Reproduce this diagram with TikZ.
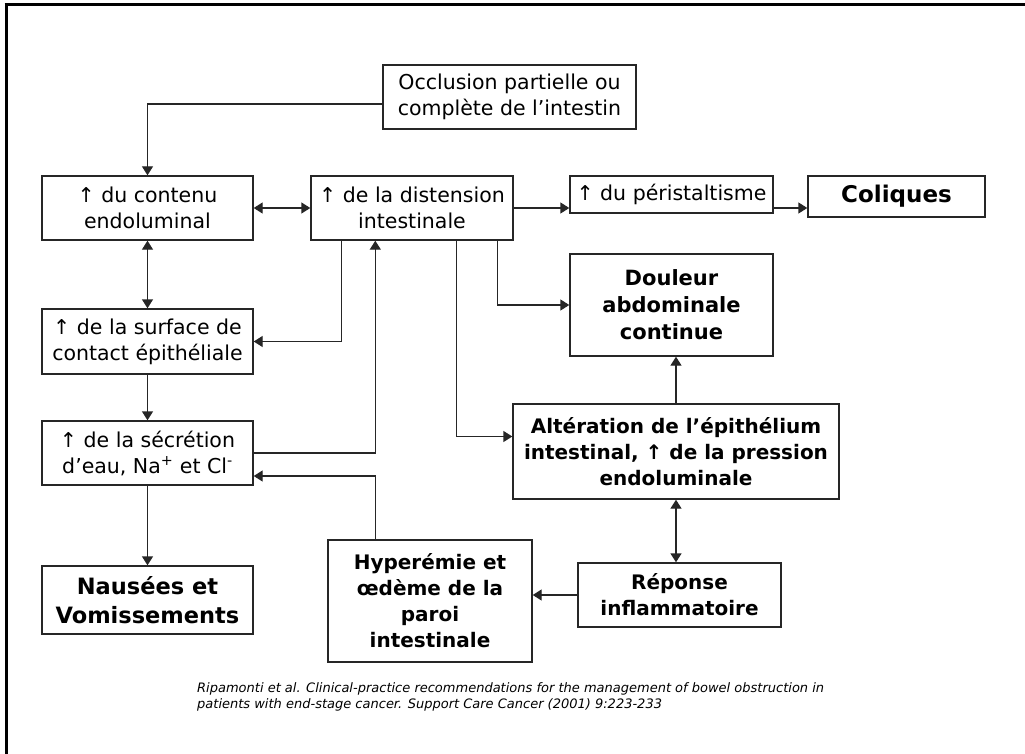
\documentclass[tikz,border=0pt]{standalone}
\usepackage{fontspec}
\setmainfont{DejaVu Sans}
\usetikzlibrary{arrows.meta}
\begin{document}
\begin{tikzpicture}[x=1pt,y=-1pt,
 box/.style={draw=black!85, line width=1.4pt, align=center, inner sep=0pt, font=\fontsize{20.5}{26}\selectfont},
 bbox/.style={box, font=\bfseries\fontsize{20}{26}\selectfont},
 arr/.style={draw=black!85, line width=1.4pt, -{Triangle[length=9pt,width=11pt]}},
 darr/.style={draw=black!85, line width=1.4pt, {Triangle[length=9pt,width=11pt]}-{Triangle[length=9pt,width=11pt]}},
 cite/.style={anchor=north west, align=left, inner sep=0pt, font=\itshape\fontsize{13}{16.5}\selectfont}
]
\useasboundingbox (0,0) rectangle (1025,754);
\fill[white] (0,0) rectangle (1025,754);
\draw[line width=3pt] (4.5,5) -- (1025,5);
\draw[line width=3pt] (6,3.5) -- (6,754);

\node[box, minimum width=253pt, minimum height=64pt] (occ) at (509.5,97) {Occlusion partielle ou\\complète de l’intestin};
\node[box, minimum width=211pt, minimum height=64pt] (cont) at (147.5,208) {↑ du contenu\\endoluminal};
\node[box, minimum width=202pt, minimum height=64pt] (dist) at (412,208) {↑ de la distension\\intestinale};
\node[box, minimum width=203pt, minimum height=37pt] (peri) at (671.5,194.5) {↑ du péristaltisme};
\node[bbox, minimum width=177pt, minimum height=41pt, font=\bfseries\fontsize{23}{28}\selectfont] (col) at (896.5,196.5) {Coliques};
\node[bbox, minimum width=203pt, minimum height=102pt, font=\bfseries\fontsize{21}{27}\selectfont] (doul) at (671.5,305) {Douleur\\abdominale\\continue};
\node[box, minimum width=211pt, minimum height=65pt] (surf) at (147.5,341.5) {↑ de la surface de\\contact épithéliale};
\node[box, minimum width=211pt, minimum height=64pt] (sec) at (147.5,453) {↑ de la sécrétion\\d’eau, Na\textsuperscript{+} et Cl\textsuperscript{-}};
\node[bbox, minimum width=326pt, minimum height=95pt] (alt) at (676,451.5) {Altération de l’épithélium\\intestinal, ↑ de la pression\\endoluminale};
\node[bbox, minimum width=203pt, minimum height=64pt] (rep) at (679.5,595) {Réponse\\inflammatoire};
\node[bbox, minimum width=204pt, minimum height=122pt] (hyp) at (430,601) {Hyperémie et\\œdème de la\\paroi\\intestinale};
\node[bbox, minimum width=211pt, minimum height=68pt, font=\bfseries\fontsize{22.5}{29}\selectfont] (naus) at (147.5,600) {Nausées et\\Vomissements};

\node[cite] (ref) at (197,682) {Ripamonti et al. Clinical-practice recommendations for the management of bowel obstruction in\\patients with end-stage cancer. Support Care Cancer (2001) 9:223-233};

\draw[arr] ([yshift=-7pt]occ.west) -| (cont.north);
\draw[darr] (cont.east) -- (dist.west);
\draw[arr] (dist.east) -- (dist.east -| peri.west);
\draw[arr] (peri.east |- dist.east) -- (col.west |- dist.east);
\draw[arr] ([xshift=-16pt]dist.south east) |- (doul.west);
\draw[arr] ([xshift=31pt]dist.south west) |- (surf.east);
\draw[arr] (sec.east) -| ([xshift=65pt]dist.south west);
\draw[arr] ([xshift=146pt]dist.south west) |- ([yshift=15pt]alt.west);
\draw[arr] (alt.north) -- (alt.north |- doul.south);
\draw[darr] (alt.south) -- (alt.south |- rep.north);
\draw[arr] (rep.west) -- (rep.west -| hyp.east);
\draw[arr] ([xshift=48pt]hyp.north west) |- ([yshift=-23pt]sec.east);
\draw[darr] (cont.south) -- (surf.north);
\draw[arr] (surf.south) -- (sec.north);
\draw[arr] (sec.south) -- (naus.north);
\end{tikzpicture}
\end{document}
